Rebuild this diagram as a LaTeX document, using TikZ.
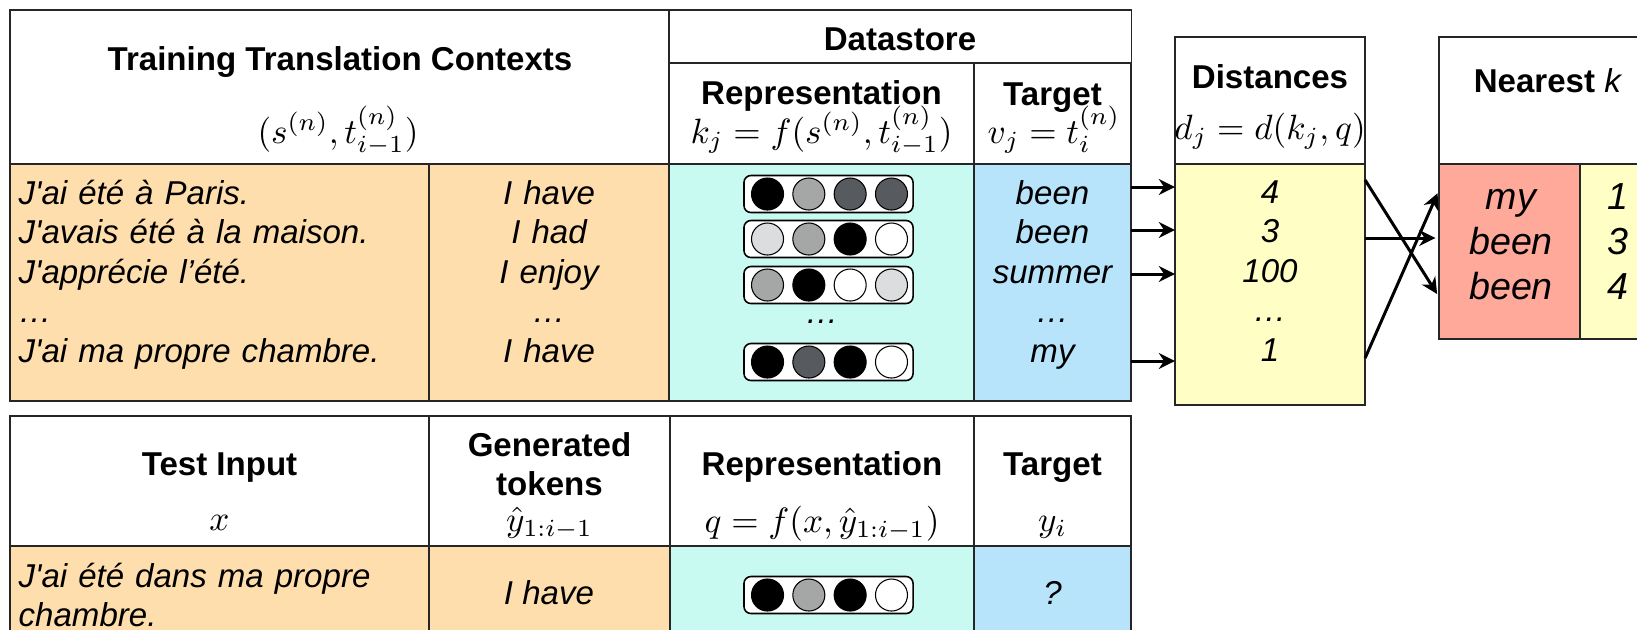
\documentclass[tikz,border=0pt]{standalone}
\usepackage[no-math]{fontspec}
\setmainfont{Liberation Sans}
\setsansfont{Liberation Sans}
\usetikzlibrary{positioning}
\usetikzlibrary{arrows.meta}
\definecolor{ctxorange}{HTML}{FFDEAD}
\definecolor{repcyan}{HTML}{C9FAF1}
\definecolor{tgtblue}{HTML}{B8E4FB}
\definecolor{distyellow}{HTML}{FFFEC4}
\definecolor{nnred}{HTML}{FFA99B}
\definecolor{vgray}{HTML}{A5A7A6}
\definecolor{vdark}{HTML}{575A5E}
\definecolor{vlight}{HTML}{DCDDDF}
\newcommand{\apos}{\textquotesingle}
% key vector: name, y, four fills
\newcommand{\keyvec}[6]{%
	\node[vecbox] (#1) at (828.5,#2) {};
	\node[neuron, fill=#3] (#1a) at (767.5,#2) {};
	\node[neuron, fill=#4, right=0.093cm of #1a] (#1b) {};
	\node[neuron, fill=#5, right=0.093cm of #1b] (#1c) {};
	\node[neuron, fill=#6, right=0.093cm of #1c] (#1d) {};
}

\begin{document}
\begin{tikzpicture}[x=0.01cm, y=-0.01cm, >={Stealth[length=4.6pt,width=4.5pt]}, font=\sffamily]
	\tikzstyle{cell}=[draw=black!85, line width=0.4pt, inner sep=0pt, outer sep=0pt, anchor=north west]
	\tikzstyle{head}=[inner sep=0pt, anchor=base, font=\fontsize{9.4}{11.24}\selectfont\bfseries]
	\tikzstyle{mth}=[inner sep=0pt, anchor=base, font=\fontsize{10}{12}\selectfont]
	\tikzstyle{body}=[inner sep=0pt, anchor=base, align=center, font=\fontsize{9.4}{11.24}\selectfont\itshape]
	\tikzstyle{nnbody}=[body, text width=1.2cm, font=\fontsize{10.7}{12.8}\selectfont\itshape]
	\tikzstyle{vecbox}=[draw=black, line width=0.45pt, rounded corners=0.07cm, fill=white, minimum width=1.69cm, minimum height=0.37cm, inner sep=0pt]
	\tikzstyle{neuron}=[circle, draw=black, line width=0.3pt, minimum size=0.32cm, inner sep=0pt, outer sep=0pt]
	\tikzstyle{arr}=[->, line width=0.85pt, draw=black]

	\useasboundingbox (0,0) rectangle (1637,629);
	\clip (0,0) rectangle (1637,629);

	% training contexts and datastore
	\node[cell, minimum width=6.59cm, minimum height=1.54cm] (ctxhead) at (10,10) {};
	\node[cell, minimum width=4.62cm, minimum height=0.53cm] (dshead) at (669,10) {};
	\node[cell, minimum width=3.05cm, minimum height=1.01cm] (rephead) at (669,63) {};
	\node[cell, minimum width=1.57cm, minimum height=1.01cm] (tgthead) at (974,63) {};
	\node[cell, minimum width=4.19cm, minimum height=2.37cm, fill=ctxorange] (srcbody) at (10,164) {};
	\node[cell, minimum width=2.40cm, minimum height=2.37cm, fill=ctxorange] (prebody) at (429,164) {};
	\node[cell, minimum width=3.05cm, minimum height=2.37cm, fill=repcyan] (repbody) at (669,164) {};
	\node[cell, minimum width=1.57cm, minimum height=2.37cm, fill=tgtblue] (tgtbody) at (974,164) {};

	\node[head] (ctxtitle) at (340,70) {Training Translation Contexts};
	\node[mth] (ctxmath) at (338,143) {$(s^{(n)}, t^{(n)}_{i-1})$};
	\node[head] (dstitle) at (900,50) {Datastore};
	\node[head] (reptitle) at (821.5,104) {Representation};
	\node[mth] (repmath) at (821.5,143) {$k_j = f(s^{(n)}, t^{(n)}_{i-1})$};
	\node[head] (tgttitle) at (1052.5,105) {Target};
	\node[mth] (tgtmath) at (1054,143) {$v_j = t^{(n)}_i$};

	\node[body, align=left, text width=4cm, anchor=base west] (srctext) at (18,204)
		{J\apos ai été à Paris.\\J\apos avais été à la maison.\\J\apos apprécie l’été.\\…\\J\apos ai ma propre chambre.};
	\node[body, text width=2.3cm] (pretext) at (549,204) {I have\\I had\\I enjoy\\…\\I have};
	\node[body, text width=1.5cm] (tgttext) at (1052.5,204) {been\\been\\summer\\…\\my};
	\keyvec{k1}{194}{black}{vgray}{vdark}{vdark}
	\keyvec{k2}{239}{vlight}{vgray}{black}{white}
	\keyvec{k3}{285}{vgray}{black}{white}{vlight}
	\node[body] (repdots) at (822,323) {…};
	\keyvec{k5}{362}{black}{vdark}{black}{white}

	% distances and nearest neighbours
	\node[cell, minimum width=1.90cm, minimum height=1.27cm] (disthead) at (1175,37) {};
	\node[cell, minimum width=1.90cm, minimum height=2.41cm, fill=distyellow] (distbody) at (1175,164) {};
	\node[head] (disttitle) at (1270,88) {Distances};
	\node[mth] (distmath) at (1270,139) {$d_j = d(k_j, q)$};
	\node[body, text width=1.8cm] (disttext) at (1270,203) {4\\3\\100\\…\\1};

	\node[cell, minimum width=3.00cm, minimum height=1.27cm] (nnhead) at (1439,37) {};
	\node[cell, minimum width=1.41cm, minimum height=1.75cm, fill=nnred] (nnword) at (1439,164) {};
	\node[cell, minimum width=1.60cm, minimum height=1.75cm, fill=distyellow] (nndist) at (1580,164) {};
	\node[head] (nntitle) at (1548,92) {Nearest \textmd{\itshape k}};
	\node[nnbody] (nnwords) at (1511,209) {my\\been\\been};
	\node[nnbody] (nnnums) at (1618,209) {1\\3\\4};

	\coordinate (r1) at (0,187);
	\coordinate (r2) at (0,230);
	\coordinate (r3) at (0,274);
	\coordinate (r5) at (0,361);
	\draw[arr] (tgtbody.east |- r1) -- (distbody.west |- r1);
	\draw[arr] (tgtbody.east |- r2) -- (distbody.west |- r2);
	\draw[arr] (tgtbody.east |- r3) -- (distbody.west |- r3);
	\draw[arr] (tgtbody.east |- r5) -- (distbody.west |- r5);

	\coordinate (d4) at (0,180);
	\coordinate (d3) at (0,238);
	\coordinate (d1) at (0,358);
	\coordinate (n1) at (0,190);
	\coordinate (n4) at (0,297);
	\draw[arr, shorten >=1pt] (distbody.east |- d4) -- (nnword.west |- n4);
	\draw[arr, shorten >=1pt] (distbody.east |- d3) -- (nnword.west |- d3);
	\draw[arr, shorten >=1pt] (distbody.east |- d1) -- (nnword.west |- n1);

	% test input
	\node[cell, minimum width=4.19cm, minimum height=1.30cm] (testhead) at (10,416) {};
	\node[cell, minimum width=2.41cm, minimum height=1.30cm] (genhead) at (429,416) {};
	\node[cell, minimum width=3.04cm, minimum height=1.30cm] (qhead) at (670,416) {};
	\node[cell, minimum width=1.57cm, minimum height=1.30cm] (yhead) at (974,416) {};
	\node[cell, minimum width=4.19cm, minimum height=1.20cm, fill=ctxorange] (testbody) at (10,546) {};
	\node[cell, minimum width=2.41cm, minimum height=1.20cm, fill=ctxorange] (genbody) at (429,546) {};
	\node[cell, minimum width=3.04cm, minimum height=1.20cm, fill=repcyan] (qbody) at (670,546) {};
	\node[cell, minimum width=1.57cm, minimum height=1.20cm, fill=tgtblue] (ybody) at (974,546) {};

	\node[head] (testtitle) at (219.5,475) {Test Input};
	\node[mth] (testmath) at (219.5,530) {$x$};
	\node[head, align=center, text width=2.3cm] (gentitle) at (549.5,456) {Generated\\tokens};
	\node[mth] (genmath) at (549.5,531) {$\hat{y}_{1:i-1}$};
	\node[head] (qtitle) at (822,475) {Representation};
	\node[mth] (qmath) at (822,532) {$q = f(x, \hat{y}_{1:i-1})$};
	\node[head] (ytitle) at (1052.5,475) {Target};
	\node[mth] (ymath) at (1052.5,531) {$y_i$};

	\node[body, align=left, text width=4cm, anchor=base west] (testtext) at (18,587) {J\apos ai été dans ma propre\\chambre.};
	\node[body] (gentext) at (549,604) {I have};
	\keyvec{qv}{595}{black}{vgray}{black}{white}
	\node[body] (ytext) at (1052.5,604) {?};
\end{tikzpicture}
\end{document}
